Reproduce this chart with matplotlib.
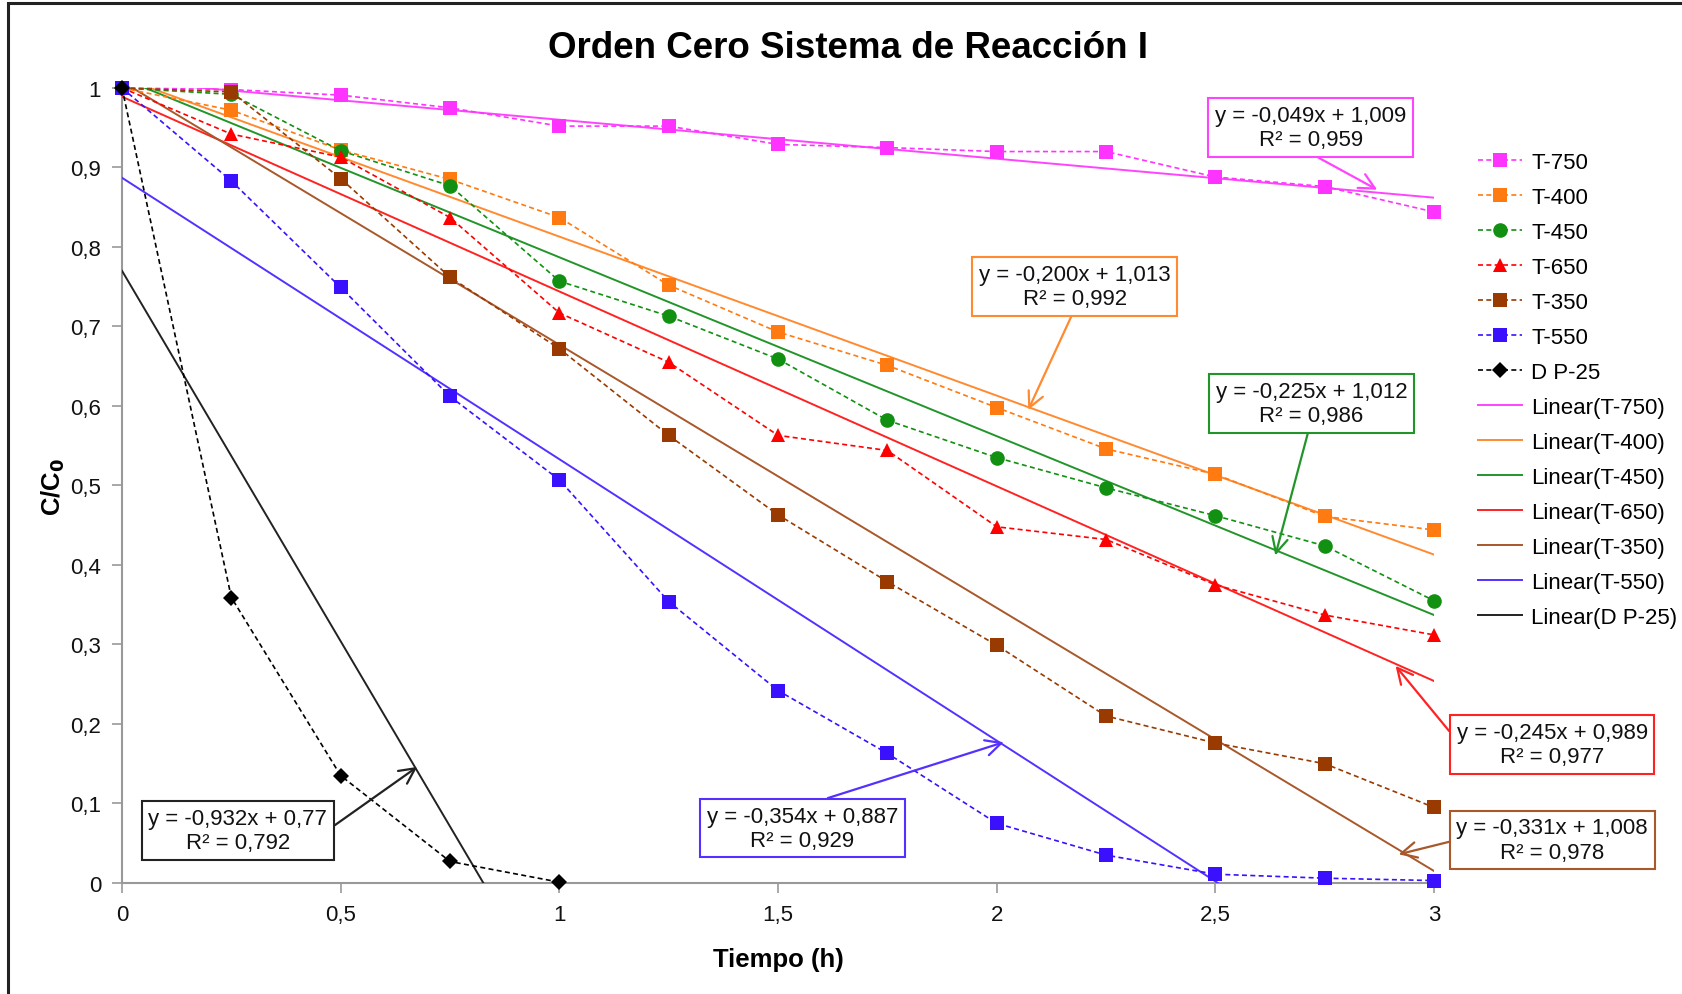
import matplotlib
matplotlib.use("Agg")
import matplotlib.pyplot as plt
from matplotlib.patches import Rectangle
import numpy as np

plt.rcParams['font.family'] = ['Liberation Sans', 'DejaVu Sans']

# tiempo (h)
tiempo = [0, 0.25, 0.5, 0.75, 1, 1.25, 1.5, 1.75, 2, 2.25, 2.5, 2.75, 3]
tiempo_p25 = [0, 0.25, 0.5, 0.75, 1]

# C/C0 de cada muestra
t750 = [1, 0.998, 0.991, 0.975, 0.952, 0.952, 0.929, 0.925, 0.920, 0.920, 0.888, 0.876, 0.844]
t400 = [1, 0.972, 0.922, 0.885, 0.837, 0.752, 0.693, 0.651, 0.598, 0.546, 0.514, 0.461, 0.444]
t450 = [1, 0.992, 0.921, 0.877, 0.757, 0.713, 0.659, 0.582, 0.535, 0.497, 0.462, 0.424, 0.355]
t650 = [1, 0.942, 0.913, 0.837, 0.717, 0.655, 0.563, 0.544, 0.448, 0.432, 0.375, 0.337, 0.312]
t350 = [1, 0.995, 0.886, 0.762, 0.672, 0.563, 0.463, 0.379, 0.299, 0.210, 0.176, 0.150, 0.095]
t550 = [1, 0.883, 0.749, 0.612, 0.507, 0.354, 0.242, 0.163, 0.075, 0.035, 0.011, 0.006, 0.003]
dp25 = [1, 0.359, 0.135, 0.027, 0.001]

nombres = ['T-750', 'T-400', 'T-450', 'T-650', 'T-350', 'T-550', 'D P-25']

# ajustes lineales (del grafico)
pendientes = [-0.049, -0.200, -0.225, -0.245, -0.331, -0.354, -0.932]
ordenadas = [1.009, 1.013, 1.012, 0.989, 1.008, 0.887, 0.77]
r2 = [0.959, 0.992, 0.986, 0.977, 0.978, 0.929, 0.792]
etiquetas = ['y = -0,049x + 1,009\nR² = 0,959',
             'y = -0,200x + 1,013\nR² = 0,992',
             'y = -0,225x + 1,012\nR² = 0,986',
             'y = -0,245x + 0,989\nR² = 0,977',
             'y = -0,331x + 1,008\nR² = 0,978',
             'y = -0,354x + 0,887\nR² = 0,929',
             'y = -0,932x + 0,77\nR² = 0,792']

series = [t750, t400, t450, t650, t350, t550, dp25]
xs = [tiempo] * 6 + [tiempo_p25]

colores = ['#ff33ff', '#ff7a10', '#119011', '#ff0000', '#993a00', '#3a10ff', '#000000']
colores_fit = ['#ff44ff', '#ff8a30', '#22952a', '#ff2222', '#a8582a', '#5530ff', '#222222']
marcadores = ['s', 's', 'o', '^', 's', 's', 'D']
tam = [10.5, 10.5, 10.5, 10.5, 10.5, 10.5, 8]

# posiciones de las cajas, puntas de flecha y salida de la flecha en la caja
caja_xy = [(2.718, 0.950), (2.178, 0.750), (2.720, 0.603), (3.270, 0.174),
           (3.270, 0.054), (1.556, 0.069), (0.265, 0.066)]
flecha_xy = [(2.870, 0.872), (2.072, 0.595), (2.637, 0.412), (2.912, 0.273),
             (2.919, 0.036), (2.016, 0.177), (0.675, 0.146)]
salida = [(0.47, 0), (0.5, 0), (0.49, 0), (0, 0.6), (0, 0.5), (0.51, 1), (1, 0.5)]

fig = plt.figure(figsize=(16.83, 9.95), dpi=100)
ax = fig.add_axes([0.0725, 0.1116, 0.7796, 0.799])

# marco de la figura
fig.patches.append(Rectangle((8 / 1683, -0.1), 1.2, 1.1 - 4 / 995, transform=fig.transFigure,
                             fill=False, edgecolor='#222222', linewidth=2.2, zorder=0))

for x, y, n, c, m, s in zip(xs, series, nombres, colores, marcadores, tam):
    ax.plot(x, y, linestyle=(0, (3, 2)), linewidth=1.2, color=c, marker=m,
            markersize=s, markeredgewidth=0, label=n, clip_on=False, zorder=4)

for x, k, b, n, c in zip(xs, pendientes, ordenadas, nombres, colores_fit):
    xf = np.array([x[0], x[-1]])
    ax.plot(xf, k * xf + b, '-', color=c, linewidth=1.4, label='Linear(' + n + ')', zorder=3)

for txt, cxy, fxy, c, rp in zip(etiquetas, caja_xy, flecha_xy, colores_fit, salida):
    ax.annotate(txt, xy=fxy, xytext=cxy, ha='center', va='center', fontsize=16,
                color='#111111', annotation_clip=False, zorder=6,
                bbox=dict(boxstyle='square,pad=0.3', facecolor='white', edgecolor=c, linewidth=1.5),
                arrowprops=dict(arrowstyle='->,head_length=0.7,head_width=0.35', color=c,
                                linewidth=1.6, shrinkA=0, shrinkB=0, relpos=rp))

ax.set_xlim(0, 3)
ax.set_ylim(0, 1)
ax.set_xticks([0, 0.5, 1, 1.5, 2, 2.5, 3])
ax.set_xticklabels(['0', '0,5', '1', '1,5', '2', '2,5', '3'])
ax.set_yticks(np.arange(0, 1.01, 0.1))
ax.set_yticklabels(['0', '0,1', '0,2', '0,3', '0,4', '0,5', '0,6', '0,7', '0,8', '0,9', '1'])
ax.tick_params(axis='both', labelsize=16, color='#999999', length=7, width=1.2,
               direction='out', pad=8, labelcolor='#111111')
ax.spines['top'].set_visible(False)
ax.spines['right'].set_visible(False)
ax.spines['left'].set_color('#999999')
ax.spines['bottom'].set_color('#999999')
ax.spines['left'].set_linewidth(1.5)
ax.spines['bottom'].set_linewidth(1.5)

ax.set_xlabel('Tiempo (h)', fontsize=18.5, fontweight='bold', labelpad=16)
ax.set_ylabel('C/C$_\\mathbf{0}$', fontsize=18.5, fontweight='bold', labelpad=2)
fig.text(0.504, 0.951, 'Orden Cero Sistema de Reacción I', ha='center', va='center',
         fontsize=26.5, fontweight='bold')

fig.legend(loc='upper left', bbox_to_anchor=(1469 / 1683, 1 - 144 / 995), frameon=False,
           fontsize=16, handlelength=2.0, handletextpad=0.4, labelspacing=0.63,
           borderaxespad=0)

fig.savefig('out.png', dpi=100, facecolor='white')
